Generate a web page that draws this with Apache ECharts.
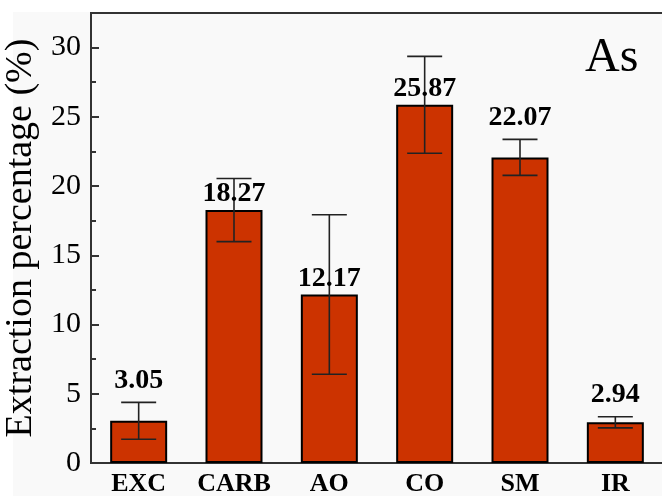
<!DOCTYPE html>
<html>
<head>
<meta charset="utf-8">
<script src="https://cdn.jsdelivr.net/npm/echarts@6/dist/echarts.min.js"></script>
<style>
  html, body { margin: 0; padding: 0; background: #ffffff; }
  #chart { width: 662px; height: 496px; }
</style>
</head>
<body>
<div id="chart"></div>
<script>
// Arsenic extraction by fraction (mean ± standard deviation)
const fractions = ['EXC', 'CARB', 'AO', 'CO', 'SM', 'IR'];
const extraction = [3.05, 18.27, 12.17, 25.87, 22.07, 2.94];
const deviation = [1.33, 2.28, 5.76, 3.50, 1.30, 0.40];
const yTicks = [0, 5, 10, 15, 20, 25, 30];
const elementName = 'As';

const FONT = '"Liberation Serif", "Times New Roman", serif';
const chart = echarts.init(document.getElementById('chart'), null, { renderer: 'canvas' });

const errorData = fractions.map((c, i) => [i, extraction[i], deviation[i]]);

chart.setOption({
  animation: false,
  graphic: [
    { type: 'rect', left: 13, top: 12, shape: { width: 660, height: 490 }, style: { fill: '#f9f9f9' }, z: -10 },
    { type: 'text', left: 585, top: 34, style: { text: elementName, font: '48px ' + FONT, fill: '#000' }, z: 10 }
  ],
  grid: {
    left: 91, top: 13, width: 572, height: 450,
    outerBoundsMode: 'none',
    containLabel: false,
    show: true, borderColor: '#333', borderWidth: 2, backgroundColor: 'transparent'
  },
  xAxis: {
    type: 'category',
    data: fractions,
    axisLine: { lineStyle: { color: '#333', width: 2 } },
    axisTick: { show: false },
    axisLabel: { interval: 0, color: '#000', fontFamily: FONT, fontWeight: 'bold', fontSize: 26, margin: 8 }
  },
  yAxis: {
    type: 'value',
    min: 0, max: 32.5, interval: 5,
    name: 'Extraction percentage (%)',
    nameLocation: 'middle',
    nameGap: 41,
    nameTextStyle: { color: '#000', fontFamily: FONT, fontSize: 38 },
    axisLine: { show: true, lineStyle: { color: '#333', width: 2 } },
    axisTick: { show: true, inside: true, length: 8, lineStyle: { color: '#333', width: 2 } },
    minorTick: { show: true, splitNumber: 2, length: 5, lineStyle: { color: '#333', width: 2 } },
    splitLine: { show: false },
    axisLabel: {
      color: '#000', fontFamily: FONT, fontSize: 30, margin: 10,
      formatter: v => (yTicks.indexOf(v) >= 0 ? String(v) : '')
    }
  },
  series: [
    {
      type: 'bar',
      data: extraction,
      barWidth: 57,
      itemStyle: { color: '#cc3300', borderColor: '#000', borderWidth: 2 },
      z: 2
    },
    {
      // error bars with the mean value written above them
      type: 'custom',
      data: errorData,
      z: 5,
      renderItem: function (params, api) {
        const i = api.value(0), v = api.value(1), sd = api.value(2);
        const hi = api.coord([i, v + sd]);
        const lo = api.coord([i, v - sd]);
        const top = api.coord([i, v]);
        const cap = 17.5;
        const lineStyle = { stroke: '#222', lineWidth: 1.6 };
        // short whiskers get the label above them, long ones let it sit on the bar
        const labelY = sd < 2 ? hi[1] - 8 : top[1] - 2;
        return {
          type: 'group',
          children: [
            { type: 'line', shape: { x1: hi[0], y1: hi[1], x2: lo[0], y2: lo[1] }, style: lineStyle },
            { type: 'line', shape: { x1: hi[0] - cap, y1: hi[1], x2: hi[0] + cap, y2: hi[1] }, style: lineStyle },
            { type: 'line', shape: { x1: lo[0] - cap, y1: lo[1], x2: lo[0] + cap, y2: lo[1] }, style: lineStyle },
            {
              type: 'text',
              x: top[0], y: labelY,
              style: {
                text: v.toFixed(2),
                font: 'bold 28px ' + FONT,
                fill: '#000',
                align: 'center',
                verticalAlign: 'bottom'
              }
            }
          ]
        };
      }
    }
  ]
});
</script>
</body>
</html>
